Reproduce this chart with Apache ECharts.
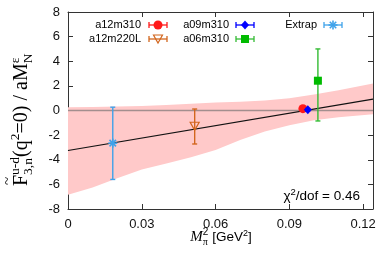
<!DOCTYPE html>
<html><head><meta charset="utf-8">
<script src="https://cdn.jsdelivr.net/npm/echarts@6/dist/echarts.min.js"></script>
<style>html,body{margin:0;padding:0;background:#fff}#c{width:390px;height:260px}</style>
</head><body><div id="c"></div>
<script>
// ---- data ----
const xTickLabels = ['0', '0.03', '0.06', '0.09', '0.12'];
const yTickLabels = ['-8', '-6', '-4', '-2', '0', '2', '4', '6', '8'];
const xRange = [0, 0.124];
const yRange = [-8, 8];

const ptNames = ['a12m310', 'a12m220L', 'a09m310', 'a06m310', 'Extrap'];
const ptX  = [0.0955, 0.0515, 0.0975, 0.1016, 0.0182];
const ptY  = [0.15, -1.28, 0.06, 2.42, -2.65];
const ptLo = [0.05, -2.72, -0.04, -0.85, -5.60];
const ptHi = [0.25, 0.12, 0.16, 5.00, 0.27];

const fitX = [0, 0.124];
const fitY = [-3.25, 0.93];

const zeroX = [0, 0.124];
const zeroY = [0, 0];

const bandX  = [0, 0.01, 0.02, 0.03, 0.04, 0.05, 0.06, 0.07, 0.08, 0.09, 0.10, 0.11, 0.124];
const bandUp = [0.26, 0.28, 0.32, 0.37, 0.45, 0.55, 0.65, 0.72, 0.82, 1.00, 1.30, 1.65, 2.20];
const bandLo = [-6.85, -6.25, -5.50, -4.80, -4.30, -3.80, -3.20, -2.40, -1.70, -1.20, -0.80, -0.55, -0.30];

const chiText = '/dof = 0.46';

// ---- styles ----
const SANS = "'Liberation Sans', Arial, sans-serif";
const SERIF = "'Liberation Serif', 'Times New Roman', serif";
const ptKind  = ['circle', 'tri', 'diamond', 'square', 'star'];
const ptColor = ['#ff1a1a', '#d2661e', '#0000ff', '#00bb00', '#3fa2ea'];
const barColor = ['#ff1a1a', '#d2661e', '#0000ff', '#33bb33', '#3fa2ea'];
const AX = '#333';

function symbolEls(kind, cx, cy, color) {
  if (kind === 'circle') return [{type: 'circle', shape: {cx, cy, r: 4.5}, style: {fill: color}}];
  if (kind === 'tri') return [{type: 'polygon', shape: {points: [[cx - 4.5, cy - 4], [cx + 4.5, cy - 4], [cx, cy + 4]]}, style: {fill: 'rgba(0,0,0,0)', stroke: color, lineWidth: 1.2}}];
  if (kind === 'diamond') return [{type: 'polygon', shape: {points: [[cx, cy - 4.5], [cx + 4, cy], [cx, cy + 4.5], [cx - 4, cy]]}, style: {fill: color}}];
  if (kind === 'square') return [{type: 'rect', shape: {x: cx - 4, y: cy - 4, width: 8, height: 8}, style: {fill: color}}];
  const r = 4.5, d = r * 0.72, st = {stroke: color, lineWidth: 1.6};
  return [
    {type: 'line', shape: {x1: cx - r, y1: cy, x2: cx + r, y2: cy}, style: st},
    {type: 'line', shape: {x1: cx, y1: cy - r, x2: cx, y2: cy + r}, style: st},
    {type: 'line', shape: {x1: cx - d, y1: cy - d, x2: cx + d, y2: cy + d}, style: st},
    {type: 'line', shape: {x1: cx - d, y1: cy + d, x2: cx + d, y2: cy - d}, style: st}
  ];
}

// ---- text layout helper (sub/superscripts) ----
const meas = document.createElement('canvas').getContext('2d');
function runs(pieces) {
  let x = 0, pend = 0; const els = [];
  for (const p of pieces) {
    const font = (p.it ? 'italic ' : '') + p.s + 'px ' + p.f;
    meas.font = font; const w = meas.measureText(p.t).width;
    els.push({type: 'text', x: x + (p.dx || 0), y: (p.dy || 0) - 0.32 * p.s, silent: true,
      style: {text: p.t, font, fill: '#000', align: 'left', verticalAlign: 'middle'}});
    if (p.stack) pend = Math.max(pend, w); else { x += Math.max(w, pend); pend = 0; }
  }
  return {els, width: x};
}

const yTitle = runs([
  {t: '~', s: 15, f: SERIF, dy: -15, dx: 1, stack: true},
  {t: 'F', s: 20, f: SERIF},
  {t: 'u-d', s: 13.5, f: SERIF, dy: -8.5, stack: true},
  {t: '3,n', s: 13.5, f: SERIF, dy: 5},
  {t: '(q', s: 20, f: SERIF},
  {t: '2', s: 13.5, f: SERIF, dy: -8.5},
  {t: '=0) / aM', s: 20, f: SERIF},
  {t: 'N', s: 13.5, f: SERIF, dy: 5, stack: true},
  {t: 'ε', s: 13.5, f: SERIF, dy: -8.5}
]);
const xTitle = runs([
  {t: 'M', s: 15, f: SERIF, it: true},
  {t: 'π', s: 10, f: SERIF, dy: 4, stack: true},
  {t: '2', s: 10, f: SANS, dy: -7},
  {t: ' [GeV', s: 13.5, f: SANS},
  {t: '2', s: 9, f: SANS, dy: -6},
  {t: ']', s: 13.5, f: SANS}
]);
const chi = runs([
  {t: 'χ', s: 13.5, f: SANS},
  {t: '2', s: 9.5, f: SANS, dy: -6},
  {t: chiText, s: 13.5, f: SANS}
]);

// legend
const legPos = [[141, 25, 158], [141, 39, 158], [229, 25, 245], [229, 39, 245], [317, 25, 333]];
const legendEls = [];
ptNames.forEach((n, i) => {
  const [tr, ty, sx] = legPos[i];
  legendEls.push({type: 'text', x: tr, y: ty, silent: true, style: {text: n, font: '11px ' + SANS, fill: '#000', align: 'right', verticalAlign: 'middle'}});
  const st = {stroke: barColor[i], lineWidth: 1.3};
  legendEls.push({type: 'line', shape: {x1: sx - 9, y1: ty, x2: sx + 9, y2: ty}, style: st});
  legendEls.push({type: 'line', shape: {x1: sx - 9, y1: ty - 3, x2: sx - 9, y2: ty + 3}, style: st});
  legendEls.push({type: 'line', shape: {x1: sx + 9, y1: ty - 3, x2: sx + 9, y2: ty + 3}, style: st});
  symbolEls(ptKind[i], sx, ty, ptColor[i]).forEach(e => legendEls.push(e));
});

const chart = echarts.init(document.getElementById('c'), null, {renderer: 'canvas'});
const axisCommon = {
  axisLine: {show: true, onZero: false, lineStyle: {color: AX, width: 1}},
  axisTick: {show: true, inside: true, length: 5, lineStyle: {color: AX}},
  splitLine: {show: false}
};
const option = {
  animation: false,
  backgroundColor: '#fff',
  grid: {left: 68, right: 17, top: 12, bottom: 51, containLabel: false},
  xAxis: [
    Object.assign({type: 'value', min: xRange[0], max: xRange[1], interval: 0.03, position: 'bottom',
      axisLabel: {fontSize: 13, color: '#111', fontFamily: SANS, margin: 9, showMaxLabel: false,
        formatter: v => { const k = Math.round(v / 0.03); return Math.abs(v - k * 0.03) < 1e-6 ? xTickLabels[k] : ''; }}}, axisCommon),
    Object.assign({type: 'value', min: xRange[0], max: xRange[1], interval: 0.03, position: 'top', axisLabel: {show: false}}, axisCommon)
  ],
  yAxis: [
    Object.assign({type: 'value', min: yRange[0], max: yRange[1], interval: 2, position: 'left',
      axisLabel: {fontSize: 13, color: '#111', fontFamily: SANS, margin: 8,
        formatter: v => yTickLabels[Math.round((v - yRange[0]) / 2)]}}, axisCommon),
    Object.assign({type: 'value', min: yRange[0], max: yRange[1], interval: 2, position: 'right', axisLabel: {show: false}}, axisCommon)
  ],
  series: [
    {type: 'custom', silent: true, clip: true, data: [[0, 0]], z: 1,
      renderItem: (params, api) => {
        const pts = [];
        for (let i = 0; i < bandX.length; i++) pts.push(api.coord([bandX[i], bandUp[i]]));
        for (let i = bandX.length - 1; i >= 0; i--) pts.push(api.coord([bandX[i], bandLo[i]]));
        return {type: 'polygon', shape: {points: pts}, style: {fill: '#ffc9c9'}};
      }},
    {type: 'line', symbol: 'none', silent: true, z: 2, data: zeroX.map((x, i) => [x, zeroY[i]]),
      lineStyle: {color: '#a38e8e', width: 1.5}},
    {type: 'line', symbol: 'none', silent: true, z: 3, data: fitX.map((x, i) => [x, fitY[i]]),
      lineStyle: {color: '#111', width: 1.2}},
    {type: 'custom', silent: true, clip: false, z: 4,
      data: ptX.map((x, i) => [x, ptY[i], ptLo[i], ptHi[i], i]),
      renderItem: (params, api) => {
        const i = api.value(4);
        const c = api.coord([api.value(0), api.value(1)]);
        const lo = api.coord([api.value(0), api.value(2)]);
        const hi = api.coord([api.value(0), api.value(3)]);
        const st = {stroke: barColor[i], lineWidth: 1.4};
        const ch = [
          {type: 'line', shape: {x1: lo[0], y1: lo[1], x2: hi[0], y2: hi[1]}, style: st},
          {type: 'line', shape: {x1: lo[0] - 2.5, y1: lo[1], x2: lo[0] + 2.5, y2: lo[1]}, style: st},
          {type: 'line', shape: {x1: hi[0] - 2.5, y1: hi[1], x2: hi[0] + 2.5, y2: hi[1]}, style: st}
        ].concat(symbolEls(ptKind[i], c[0], c[1], ptColor[i]));
        return {type: 'group', children: ch};
      }}
  ],
  graphic: [
    {type: 'group', x: 28, y: 186, rotation: Math.PI / 2, children: yTitle.els, silent: true},
    {type: 'group', x: 221 - xTitle.width / 2, y: 242, children: xTitle.els, silent: true},
    {type: 'group', x: 360 - chi.width, y: 201, children: chi.els, silent: true},
    {type: 'group', children: legendEls, silent: true}
  ]
};
chart.setOption(option);
</script>
</body></html>
